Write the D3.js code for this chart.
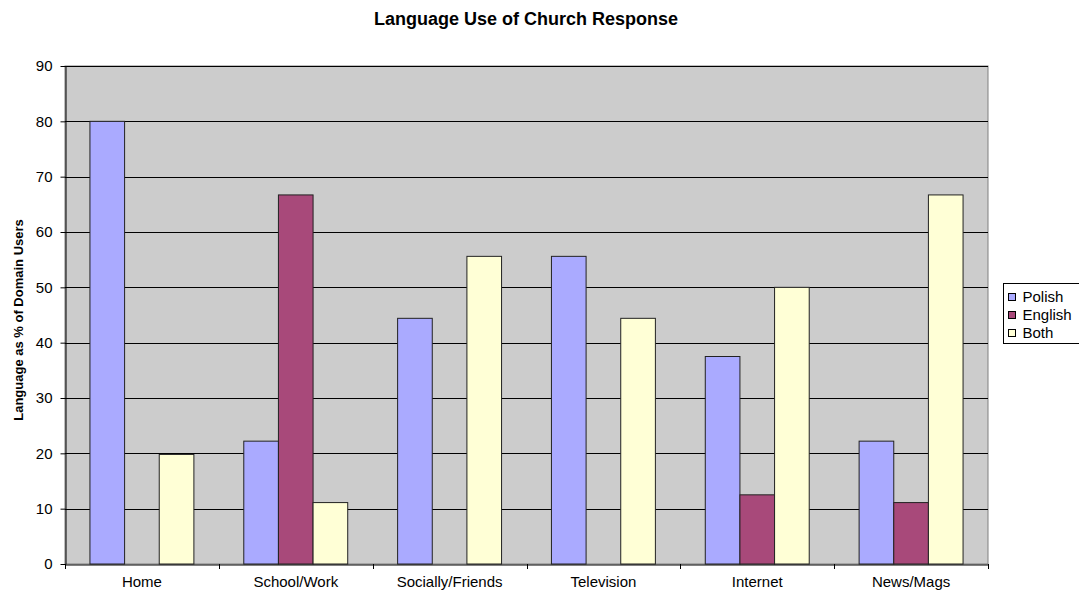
<!DOCTYPE html>
<html>
<head>
<meta charset="utf-8">
<script src="https://cdn.jsdelivr.net/npm/d3@7"></script>
<style>
  body { margin: 0; background: #fff; }
  svg { display: block; font-family: "Liberation Sans", Arial, sans-serif; }
</style>
</head>
<body>
<svg id="chart" width="1079" height="590"></svg>
<script>
// Domains of language use
const categories = ["Home", "School/Work", "Socially/Friends", "Television", "Internet", "News/Mags"];
const seriesNames = ["Polish", "English", "Both"];
const polish  = [80, 22.2, 44.4, 55.6, 37.5, 22.2];
const english = [0, 66.7, 0, 0, 12.5, 11.1];
const both    = [19.8, 11.1, 55.6, 44.4, 50, 66.7];
const yTicks  = [0, 10, 20, 30, 40, 50, 60, 70, 80, 90];
const colors  = ["#AAAAFF", "#A8497A", "#FFFFD6"];

const series = [polish, english, both];

const svg = d3.select("#chart");
const plot = { left: 65, right: 988, top: 66, bottom: 564 };

const x0 = d3.scaleBand().domain(categories).range([plot.left, plot.right]).paddingInner(0).paddingOuter(0);
const x1 = d3.scaleBand().domain(seriesNames).range([0, x0.bandwidth()]).paddingInner(0).paddingOuter(0.72);
const y = d3.scaleLinear().domain([0, 90]).range([plot.bottom, plot.top]);

// plot background
svg.append("rect")
  .attr("x", plot.left).attr("y", plot.top)
  .attr("width", plot.right - plot.left).attr("height", plot.bottom - plot.top)
  .attr("fill", "#CCCCCC").attr("stroke", "#808080").attr("stroke-width", 1);

// horizontal gridlines
svg.append("g").selectAll("line").data(yTicks.filter(d => d > 0)).join("line")
  .attr("x1", plot.left).attr("x2", plot.right)
  .attr("y1", d => Math.round(y(d)) + 0.5).attr("y2", d => Math.round(y(d)) + 0.5)
  .attr("stroke", "#000").attr("stroke-width", 1);

// bars
const groups = svg.append("g").selectAll("g").data(categories).join("g")
  .attr("transform", d => `translate(${x0(d)},0)`);
groups.selectAll("rect")
  .data((c, i) => seriesNames.map((s, k) => ({ s, k, v: series[k][i] })).filter(d => d.v > 0))
  .join("rect")
  .attr("x", d => x1(d.s))
  .attr("y", d => y(d.v))
  .attr("width", x1.bandwidth())
  .attr("height", d => y(0) - y(d.v))
  .attr("fill", d => colors[d.k])
  .attr("stroke", "#222").attr("stroke-width", 1);

// y axis
const yAxis = d3.axisLeft(y).tickValues(yTicks).tickSize(5).tickSizeOuter(0).tickPadding(8);
const gy = svg.append("g").attr("transform", `translate(${plot.left + 0.5},0)`).call(yAxis);
gy.select(".domain").attr("stroke", "#000");
gy.selectAll(".tick line").attr("stroke", "#000");
gy.selectAll(".tick text").attr("font-size", 15).attr("fill", "#000")
  .attr("font-family", "Liberation Sans, Arial, sans-serif");

// x axis
const xAxis = d3.axisBottom(x0).tickSize(0).tickSizeOuter(0).tickPadding(12);
const gx = svg.append("g").attr("transform", `translate(0,${plot.bottom + 0.5})`).call(xAxis);
gx.select(".domain").attr("stroke", "#000");
gx.selectAll(".tick text").attr("font-size", 15).attr("fill", "#000")
  .attr("font-family", "Liberation Sans, Arial, sans-serif");
// category separators
svg.append("g").selectAll("line").data(categories.concat(["_end"])).join("line")
  .attr("x1", (d, i) => Math.round(plot.left + i * x0.bandwidth()) + 0.5)
  .attr("x2", (d, i) => Math.round(plot.left + i * x0.bandwidth()) + 0.5)
  .attr("y1", plot.bottom).attr("y2", plot.bottom + 5)
  .attr("stroke", "#000");

// title
svg.append("text")
  .attr("x", 526).attr("y", 25)
  .attr("text-anchor", "middle")
  .attr("font-size", 18).attr("font-weight", "bold")
  .text("Language Use of Church Response");

// y axis title
svg.append("text")
  .attr("transform", `translate(22.5,${(plot.top + plot.bottom) / 2 + 5}) rotate(-90)`)
  .attr("text-anchor", "middle")
  .attr("font-size", 13).attr("font-weight", "bold")
  .text("Language as % of Domain Users");

// legend
const lg = svg.append("g").attr("transform", "translate(1003,283)");
lg.append("rect").attr("x", 0.5).attr("y", 0.5).attr("width", 80).attr("height", 60)
  .attr("fill", "#fff").attr("stroke", "#000");
seriesNames.forEach((s, k) => {
  const base = 19 + k * 18;
  lg.append("rect").attr("x", 5.5).attr("y", base - 8.5).attr("width", 7).attr("height", 7)
    .attr("fill", colors[k]).attr("stroke", "#000");
  lg.append("text").attr("x", 19.5).attr("y", base)
    .attr("font-size", 15).text(s);
});
</script>
</body>
</html>
